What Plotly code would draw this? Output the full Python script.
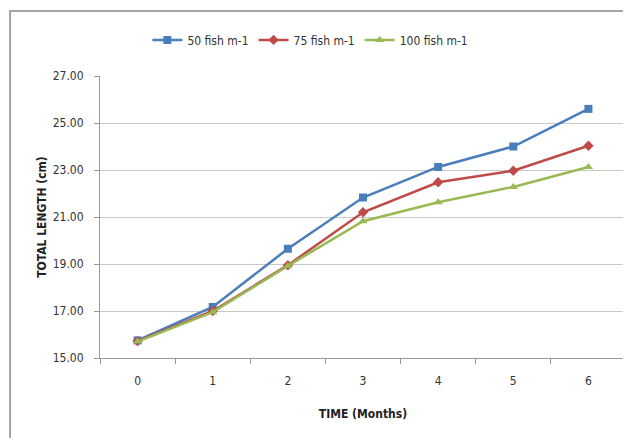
import plotly.graph_objects as go

months = ["0", "1", "2", "3", "4", "5", "6"]
fish50 = [15.75, 17.17, 19.65, 21.83, 23.13, 24.0, 25.6]
fish75 = [15.72, 17.0, 18.95, 21.2, 22.48, 22.97, 24.03]
fish100 = [15.7, 16.95, 18.92, 20.82, 21.63, 22.28, 23.13]
ytick_vals = [15, 17, 19, 21, 23, 25, 27]
ytick_text = ["15.00", "17.00", "19.00", "21.00", "23.00", "25.00", "27.00"]

FONT = "DejaVu Sans Condensed, Liberation Sans Narrow, Liberation Sans, sans-serif"

fig = go.Figure()
fig.add_trace(go.Scatter(x=months, y=fish50, name="50 fish m-1", mode="lines+markers",
                         line=dict(color="#4A7EBB", width=2.5),
                         marker=dict(symbol="square", size=8, color="#4A7EBB")))
fig.add_trace(go.Scatter(x=months, y=fish75, name="75 fish m-1", mode="lines+markers",
                         line=dict(color="#BE4B48", width=2.5),
                         marker=dict(symbol="diamond", size=8, color="#BE4B48")))
fig.add_trace(go.Scatter(x=months, y=fish100, name="100 fish m-1", mode="lines+markers",
                         line=dict(color="#98B954", width=2.5),
                         marker=dict(symbol="triangle-up", size=8, color="#98B954")))

fig.update_layout(
    width=631, height=438,
    margin=dict(l=92, r=13, t=68, b=88, autoexpand=False),
    paper_bgcolor="white", plot_bgcolor="white",
    font=dict(family=FONT, size=12, color="#333333"),
    showlegend=True,
    legend=dict(orientation="h", x=0.40, xanchor="center", y=1.128, yanchor="middle",
                bgcolor="rgba(0,0,0,0)",
                font=dict(size=12, color="#333333"), itemwidth=30),
    xaxis=dict(type="category", range=[-0.5, 6.5], tickson="boundaries", ticks="outside",
               ticklen=5, tickcolor="#999999", showline=True, linecolor="#999999", linewidth=1,
               showgrid=False, automargin=False, ticklabelstandoff=12,
               title=dict(text="<b>TIME (Months)</b>", font=dict(size=12, color="#222222"), standoff=22)),
    yaxis=dict(range=[15, 27], tickvals=ytick_vals, ticktext=ytick_text, ticks="outside",
               ticklen=5, tickcolor="#999999", showline=True, linecolor="#999999", linewidth=1,
               showgrid=True, gridcolor="#c8c8c8", gridwidth=1, zeroline=False, automargin=False,
               ticklabelstandoff=8,
               title=dict(text="<b>TOTAL LENGTH (cm)</b>", font=dict(size=12, color="#222222"), standoff=3)),
    shapes=[dict(type="rect", xref="paper", yref="paper", x0=-0.171, x1=1.2, y0=-0.4, y1=1.2305,
                 line=dict(color="#888888", width=1.5), fillcolor="rgba(0,0,0,0)", layer="below")],
)

fig.write_html("out.html")
